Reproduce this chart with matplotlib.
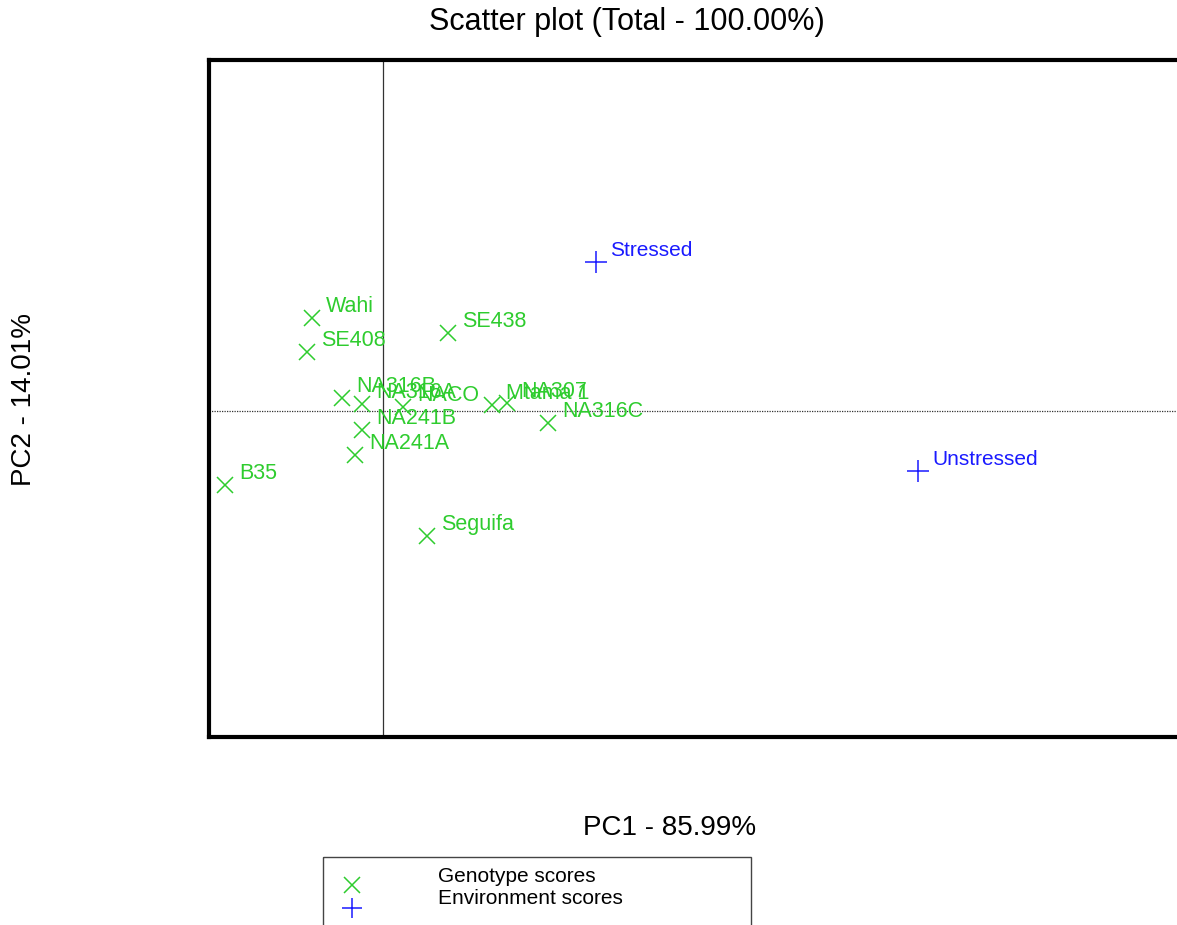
import numpy as np
from matplotlib import pyplot as plt
from matplotlib.patches import Rectangle

plt.rcParams['font.family'] = ['Liberation Sans', 'DejaVu Sans']

# genotype scores (PC1, PC2)
geno_names = ['Wahi', 'SE408', 'SE438', 'NA316B', 'NA316A', 'NACO', 'Mtama 1',
              'NA307', 'NA241B', 'NA241A', 'NA316C', 'B35', 'Seguifa']
geno_pc1 = [-0.71, -0.76, 0.65, -0.41, -0.21, 0.20, 1.09, 1.24, -0.21, -0.28, 1.65, -1.58, 0.44]
geno_pc2 = [0.93, 0.59, 0.78, 0.13, 0.07, 0.04, 0.06, 0.08, -0.19, -0.44, -0.12, -0.74, -1.25]

# environment scores
env_names = ['Stressed', 'Unstressed']
env_pc1 = [2.13, 5.35]
env_pc2 = [1.49, -0.60]

green = '#2ecc2e'
blue = '#1a1aff'

fig = plt.figure(figsize=(11.77, 9.25), dpi=100)
ax = fig.add_axes([209 / 1177, 1 - 737 / 925, (1190 - 209) / 1177, (737 - 60) / 925])
ax.set_xlim(-1.74, 8.07)
ax.set_ylim(-3.26, 3.51)
ax.set_xticks([])
ax.set_yticks([])
for s in ['left', 'top', 'bottom']:
    ax.spines[s].set_linewidth(3)
ax.spines['right'].set_visible(False)

ax.axvline(0, color='#333333', linewidth=0.9)
ax.axhline(0, color='#333333', linewidth=0.9, linestyle=(0, (1, 1)))

ax.plot(geno_pc1, geno_pc2, linestyle='none', marker='x', color=green,
        markersize=12, markeredgewidth=1.1)
for n, x, y in zip(geno_names, geno_pc1, geno_pc2):
    ax.annotate(n, (x, y), xytext=(10, 4), textcoords='offset points',
                color=green, fontsize=15.5)

ax.plot(env_pc1, env_pc2, linestyle='none', marker='+', color=blue,
        markersize=16, markeredgewidth=1.1)
for n, x, y in zip(env_names, env_pc1, env_pc2):
    ax.annotate(n, (x, y), xytext=(10, 4), textcoords='offset points',
                color=blue, fontsize=15)

fig.text(627 / 1177, 1 - 22 / 925, 'Scatter plot (Total - 100.00%)',
         ha='center', va='center', fontsize=22)
fig.text(670 / 1177, 1 - 828 / 925, 'PC1 - 85.99%',
         ha='center', va='center', fontsize=20)
fig.text(24 / 1177, 1 - 400 / 925, 'PC2 - 14.01%', rotation=90,
         ha='center', va='center', fontsize=20)

# legend box
lax = fig.add_axes([0, 0, 1, 1], facecolor='none')
lax.set_xlim(0, 1177)
lax.set_ylim(925, 0)
lax.axis('off')
lax.add_patch(Rectangle((323, 857), 751 - 323, 100, fill=False,
                        edgecolor='#444444', linewidth=1))
lax.plot([352], [885], marker='x', color=green, markersize=11, markeredgewidth=1.1)
lax.plot([352], [908], marker='+', color=blue, markersize=15, markeredgewidth=1.1)
lax.text(438, 876, 'Genotype scores', va='center', fontsize=15)
lax.text(438, 898, 'Environment scores', va='center', fontsize=15)

plt.savefig('out.png')
